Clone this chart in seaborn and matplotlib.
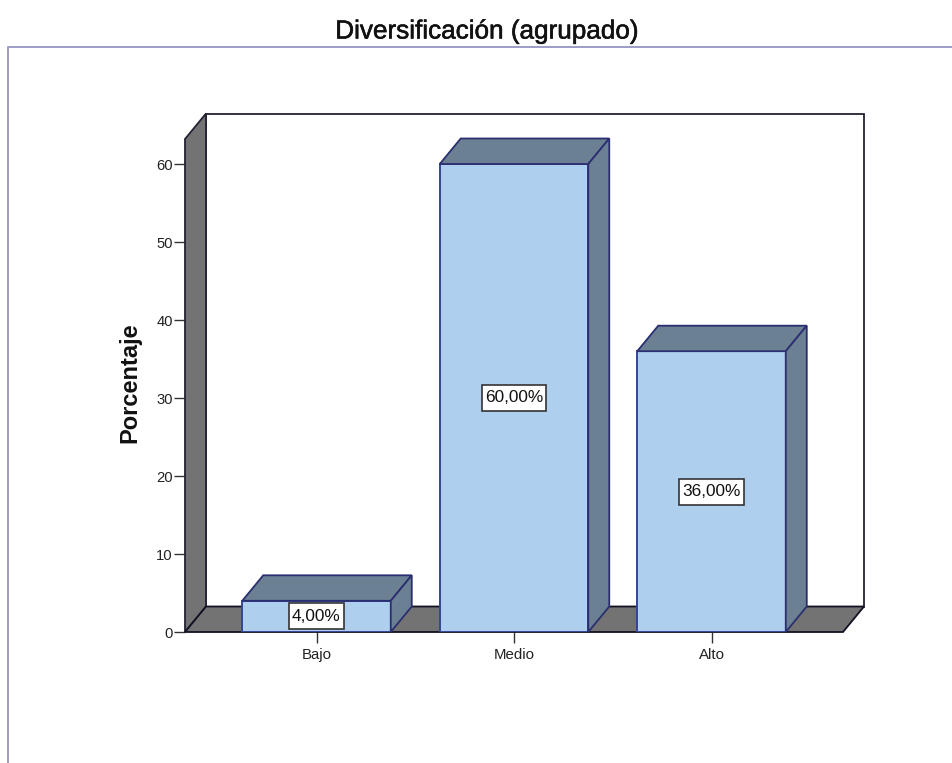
import matplotlib
matplotlib.use("Agg")
import matplotlib.pyplot as plt
import matplotlib.patheffects as pe
from matplotlib.lines import Line2D
from matplotlib.patches import Polygon
from matplotlib.path import Path
import pandas as pd
import seaborn as sns

categories = ["Bajo", "Medio", "Alto"]
percentages = [4.0, 60.0, 36.0]
value_labels = ["4,00%", "60,00%", "36,00%"]
y_ticks = [0, 10, 20, 30, 40, 50, 60]

W, H = 952, 763
FRONT = "#aed0ee"
SHADE = "#6b8093"
WALL = "#737373"
BAR_EDGE = "#2b2f70"
FRAME = "#9c9cc8"

sns.set_theme(style="white")
plt.rcParams["font.family"] = ["Liberation Sans", "DejaVu Sans"]

fig = plt.figure(figsize=(W / 100, H / 100), dpi=100, facecolor="white")
left, right, top, bottom = 185, 843, 139, 632
ax = fig.add_axes([left / W, 1 - bottom / H, (right - left) / W, (bottom - top) / H])
ax.patch.set_visible(False)

px_per_cat = 197.5
px_per_unit = 7.8
ax.set_xlim((left - 316.5) / px_per_cat, (right - 316.5) / px_per_cat)
ax.set_ylim(0, (bottom - top) / px_per_unit)

# Depth of the pseudo-3D extrusion, expressed in data units
dx = 21 / px_per_cat
dy = 25.5 / px_per_unit
x0, x1 = ax.get_xlim()
y1 = ax.get_ylim()[1]


def face(points, color, edge, lw=1.3, z=1):
    ax.add_patch(Polygon(points, closed=True, facecolor=color, edgecolor=edge,
                         linewidth=lw, joinstyle="miter", clip_on=False, zorder=z))


def label_box(x, y, width, height, mutation_size):
    # Tall box around a value label: small side padding, fixed overall height
    cy = y + height / 2
    pad_x = 3.0
    half = 13.0
    xa, xb = x - pad_x, x + width + pad_x
    return Path([(xa, cy - half), (xb, cy - half), (xb, cy + half), (xa, cy + half), (xa, cy - half)], closed=True)


# Room: back wall, left wall and floor
face([(x0 + dx, dy), (x1 + dx, dy), (x1 + dx, y1 + dy), (x0 + dx, y1 + dy)], "white", "#222233", z=0.5)
face([(x0, 0), (x0 + dx, dy), (x0 + dx, y1 + dy), (x0, y1)], WALL, "#222233", z=0.6)
face([(x0, 0), (x1, 0), (x1 + dx, dy), (x0 + dx, dy)], WALL, "#111122", z=0.7)

# Front faces of the bars
data = pd.DataFrame({"category": categories, "percent": percentages})
sns.barplot(data=data, x="category", y="percent", order=categories, color=FRONT,
            saturation=1, width=0.752, edgecolor="#34449a", linewidth=1.4, ax=ax, zorder=3)
ax.set_xlim(x0, x1)
ax.set_ylim(0, y1)

# Top and side faces follow each bar's own geometry
for bar in list(ax.containers[0]):
    a = bar.get_x()
    b = a + bar.get_width()
    h = bar.get_height()
    face([(a, h), (b, h), (b + dx, h + dy), (a + dx, h + dy)], SHADE, BAR_EDGE, z=4)
    face([(b, 0), (b + dx, dy), (b + dx, h + dy), (b, h)], SHADE, BAR_EDGE, z=4)

# Value labels centred on the bars
for i, (v, text) in enumerate(zip(percentages, value_labels)):
    ax.text(i, v / 2, text, ha="center", va="center", fontsize=12.4, color="#111111", zorder=6,
            bbox=dict(boxstyle=label_box, facecolor="white", edgecolor="#333333", linewidth=1.2))

sns.despine(ax=ax, left=True, bottom=True, top=True, right=True)
ax.set_yticks(y_ticks)
ax.set_xticks(range(len(categories)), categories)
ax.tick_params(axis="y", left=True, length=7.9, width=1, color="#333333", labelsize=10.6, pad=1, labelcolor="#222222")
ax.tick_params(axis="x", bottom=True, length=8, width=1, color="#333333", labelsize=10.8, pad=3.5, labelcolor="#222222")
ax.set_xlabel("")
ax.set_ylabel("Porcentaje", fontsize=17, fontweight="bold", color="#111111")
ax.yaxis.set_label_coords((141 - left) / (right - left), 0.505)

fig.text(487 / W, 1 - 38.5 / H, "Diversificación (agrupado)", ha="center", va="baseline",
         fontsize=18.8, color="#111111",
         path_effects=[pe.withStroke(linewidth=0.4, foreground="#111111")])

# Chart frame: open at the right and bottom
fig.add_artist(Line2D([8 / W, 8 / W, 1], [0, 1 - 47 / H, 1 - 47 / H], color=FRAME, linewidth=1.4))

fig.savefig("out.png", dpi=100, facecolor="white")
